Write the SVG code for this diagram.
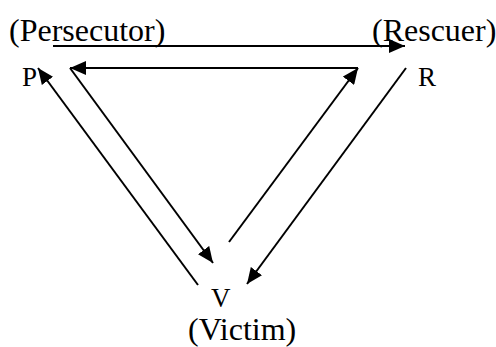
<svg xmlns="http://www.w3.org/2000/svg" width="496" height="347" viewBox="0 0 496 347">
<style>
.lbl{font-family:"Liberation Serif","Times New Roman",serif;font-size:32px;fill:#000}
.ltr{font-family:"Liberation Serif","Times New Roman",serif;font-size:27px;fill:#000}
.c{stroke:#000;stroke-width:2;fill:none;marker-end:url(#ah)}
</style>
<defs>
<marker id="ah" markerUnits="userSpaceOnUse" markerWidth="17" markerHeight="14" refX="16" refY="7" orient="auto">
<path d="M0,0 L16,7 L0,14 z" fill="#000"/>
</marker>
</defs>
<rect width="496" height="347" fill="#fff"/>
<g id="connectors">
<line class="c" x1="53" y1="46" x2="405" y2="46"/>
<line class="c" x1="358" y1="68" x2="70" y2="68"/>
<line class="c" x1="70" y1="68" x2="213" y2="263"/>
<line class="c" x1="198" y1="285" x2="38" y2="68"/>
<line class="c" x1="229" y1="242" x2="358" y2="68"/>
<line class="c" x1="406" y1="68" x2="247" y2="284"/>
</g>
<g id="persecutor">
<text class="lbl" x="9" y="41">(Persecutor)</text>
<text class="ltr" x="22" y="86">P</text>
</g>
<g id="rescuer">
<text class="lbl" x="372" y="41">(Rescuer)</text>
<text class="ltr" x="418" y="86">R</text>
</g>
<g id="victim">
<text class="ltr" x="211" y="307">V</text>
<text class="lbl" x="188" y="340">(Victim)</text>
</g>
</svg>
